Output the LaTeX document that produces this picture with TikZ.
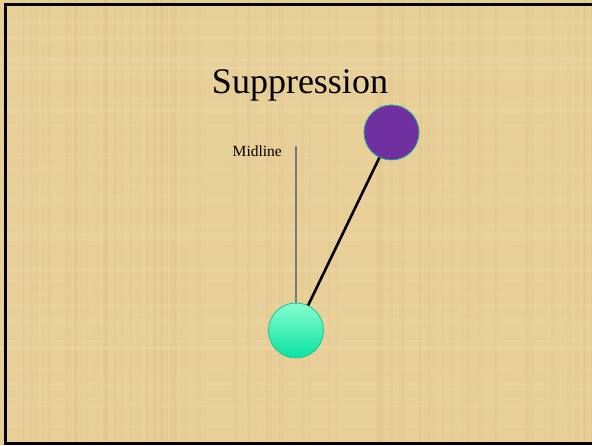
\documentclass[tikz,border=0pt]{standalone}
\usepackage{fontspec}
\setmainfont{Liberation Serif}
\usetikzlibrary{shadings}
\definecolor{paper}{RGB}{232,207,152}
\definecolor{paperdark}{RGB}{212,182,122}
\definecolor{paperlight}{RGB}{245,228,186}
\definecolor{bobpurple}{RGB}{112,48,160}
\definecolor{bobrim}{RGB}{20,170,160}
\definecolor{mintTop}{RGB}{135,255,210}
\definecolor{mintBot}{RGB}{10,225,160}
\definecolor{mintRim}{RGB}{20,200,150}
\definecolor{midgray}{RGB}{120,120,125}
\tikzset{
  bob/.style={circle, minimum size=55pt, inner sep=0pt, line width=0.8pt},
  title text/.style={font=\fontsize{36}{40}\selectfont, anchor=base},
  small label/.style={font=\fontsize{15.5}{18}\selectfont, anchor=base east, inner sep=0pt},
  rod/.style={line width=2.6pt, black},
  midline/.style={line width=1.5pt, midgray}
}
\begin{document}
\begin{tikzpicture}[x=1pt, y=-1pt]
  \useasboundingbox (0,0) rectangle (592,445);
  % papyrus-like background: base colour with faint fibre stripes
  \fill[paper] (0,0) rectangle (592,445);
  \pgfmathsetseed{7}
  \foreach \i in {1,...,110} {
    \pgfmathsetmacro{\xx}{rnd*592}
    \pgfmathsetmacro{\ww}{0.8+rnd*3.5}
    \pgfmathsetmacro{\oo}{0.05+rnd*0.12}
    \fill[paperdark, opacity=\oo] (\xx,0) rectangle ++(\ww,445);
  }
  \foreach \i in {1,...,90} {
    \pgfmathsetmacro{\yy}{rnd*445}
    \pgfmathsetmacro{\hh}{0.8+rnd*3}
    \pgfmathsetmacro{\oo}{0.05+rnd*0.14}
    \fill[paperlight, opacity=\oo] (0,\yy) rectangle ++(592,\hh);
  }
  % frame
  \draw[black, line width=3pt] (592,4) -- (5,4) -- (5,443.5) -- (592,443.5);

  \node[title text] (title) at (300,93) {Suppression};
  \node[small label] (midlabel) at (282,156) {Midline};

  \node[bob, fill=bobpurple, draw=bobrim] (top) at (391.5,132.5) {};
  \node[bob, top color=mintTop, bottom color=mintBot, draw=mintRim] (bottom) at (296,330.5) {};
  \coordinate (midtop) at (296,146);

  \draw[midline] (midtop) -- (bottom.north);
  \draw[rod] (top) -- (bottom);
\end{tikzpicture}
\end{document}
